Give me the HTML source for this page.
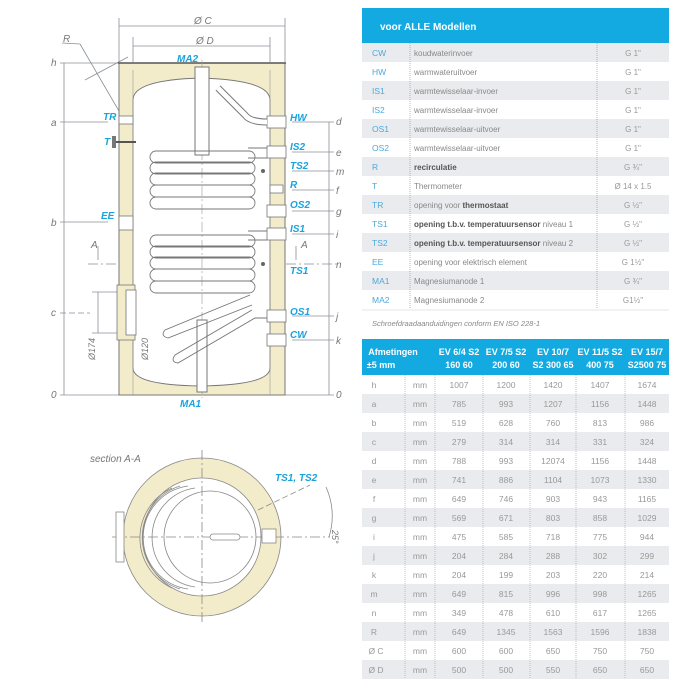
<!DOCTYPE html>
<html><head><meta charset="utf-8"><style>
body{margin:0;background:#fff;width:700px;height:700px;overflow:hidden;font-family:"Liberation Sans",sans-serif}
svg{position:absolute;left:0;top:0}
</style></head><body>
<svg width="700" height="700" viewBox="0 0 700 700" xmlns="http://www.w3.org/2000/svg" font-family="Liberation Sans, sans-serif">
<g stroke="#8a8f96" stroke-width="0.8" fill="none">
  <line x1="119" y1="18" x2="119" y2="62"/><line x1="285" y1="18" x2="285" y2="62"/>
  <line x1="119" y1="26" x2="285" y2="26"/>
  <line x1="133" y1="37" x2="133" y2="62"/><line x1="270" y1="37" x2="270" y2="62"/>
  <line x1="133" y1="46" x2="270" y2="46"/>
  <line x1="62" y1="43" x2="80" y2="44"/><line x1="80" y1="44" x2="284" y2="395"/>
  <line x1="85" y1="80" x2="128" y2="57"/>
  <line x1="64" y1="63" x2="64" y2="395"/>
  <line x1="60" y1="63" x2="119" y2="63"/>
  <line x1="60" y1="122" x2="108" y2="122"/>
  <line x1="60" y1="222" x2="108" y2="222"/>
  <line x1="60" y1="313" x2="90" y2="313" stroke-dasharray="6 3"/>
  <line x1="60" y1="395" x2="119" y2="395"/>
  <line x1="98" y1="292" x2="98" y2="333"/>
  <line x1="92" y1="292" x2="118" y2="292"/><line x1="92" y1="333" x2="118" y2="333"/>
  <line x1="152" y1="302" x2="152" y2="355"/>
  <line x1="329" y1="122" x2="329" y2="395"/>
  <line x1="292" y1="122" x2="334" y2="122"/>
  <line x1="292" y1="152" x2="334" y2="152"/>
  <line x1="292" y1="171" x2="334" y2="171"/>
  <line x1="292" y1="190" x2="334" y2="190"/>
  <line x1="292" y1="211" x2="334" y2="211"/>
  <line x1="292" y1="234" x2="334" y2="234"/>
  <line x1="292" y1="316" x2="334" y2="316"/>
  <line x1="292" y1="340" x2="334" y2="340"/>
  <line x1="285" y1="395" x2="334" y2="395"/>
  <line x1="88" y1="264" x2="338" y2="264" stroke-dasharray="10 3 2 3"/>
  <line x1="98" y1="246" x2="98" y2="260"/><line x1="296" y1="246" x2="296" y2="260"/>
</g>
<path d="M119,63 H285 V395 H119 Z" fill="#f3eccb" stroke="#777" stroke-width="1"/>
<path d="M133,100 Q133,80 200,78 Q270,80 270,100 V368 Q270,385 200,386 Q133,385 133,368 Z" fill="#fff" stroke="#777" stroke-width="1"/>
<line x1="133" y1="70" x2="133" y2="395" stroke="#999" stroke-width="0.6"/>
<line x1="270" y1="70" x2="270" y2="395" stroke="#999" stroke-width="0.6"/>
<line x1="118" y1="63" x2="286" y2="63" stroke="#555" stroke-width="1.5"/>
<line x1="202" y1="60" x2="202" y2="398" stroke="#999" stroke-width="0.6" stroke-dasharray="10 3 2 3"/>
<rect x="195" y="67" width="14" height="88" fill="#fff" stroke="#777"/>
<rect x="197" y="320" width="10" height="72" fill="#fff" stroke="#777"/>
<g fill="#fff" stroke="#777" stroke-width="0.8">
<rect x="267" y="116" width="19" height="12"/><rect x="267" y="146" width="19" height="12"/>
<rect x="270" y="185" width="13" height="8"/><rect x="267" y="205" width="19" height="12"/>
<rect x="267" y="228" width="19" height="12"/><rect x="267" y="310" width="19" height="12"/>
<rect x="267" y="334" width="19" height="12"/>
<rect x="119" y="116" width="14" height="8"/><rect x="119" y="216" width="14" height="14"/>
<rect x="117" y="285" width="18" height="55" fill="#f3eccb"/><rect x="126" y="290" width="10" height="45"/>
</g>
<path d="M218,88 L245,115 Q250,122 267,122" stroke="#777" stroke-width="7" fill="none"/>
<path d="M218,88 L245,115 Q250,122 267,122" stroke="#fff" stroke-width="5" fill="none"/>
<rect x="112" y="136" width="4" height="12" fill="#777"/><line x1="116" y1="142" x2="136" y2="142" stroke="#555" stroke-width="2"/>
<g fill="none" stroke="#777" stroke-width="0.9">
<rect x="150" y="151" width="105" height="12" rx="6"/><rect x="150" y="162" width="105" height="12" rx="6"/>
<rect x="150" y="173" width="105" height="12" rx="6"/><rect x="150" y="185" width="105" height="12" rx="6"/>
<rect x="150" y="197" width="105" height="12" rx="6"/>
<rect x="150" y="235" width="105" height="12" rx="6"/><rect x="150" y="246" width="105" height="12" rx="6"/>
<rect x="150" y="257" width="105" height="12" rx="6"/><rect x="150" y="269" width="105" height="12" rx="6"/>
<rect x="150" y="281" width="105" height="12" rx="6"/>
<path d="M248,148 H267 M248,158 H267 M248,231 H267 M248,240 H267"/>
<path d="M250,295 L165,330 Q160,336 168,338 L252,305"/>
<path d="M252,310 L175,355 Q170,362 178,363 L255,318 H267"/>
</g>
<circle cx="263" cy="171" r="2" fill="#666"/><circle cx="263" cy="264" r="2" fill="#666"/>
<g font-size="10" fill="#777" font-style="italic">
<text x="194" y="24">Ø C</text><text x="196" y="44">Ø D</text><text x="63" y="42">R</text>
<text x="51" y="66">h</text><text x="51" y="126">a</text><text x="51" y="226">b</text><text x="51" y="316">c</text><text x="51" y="398">0</text>
<text x="336" y="125">d</text><text x="336" y="156">e</text><text x="336" y="175">m</text><text x="336" y="194">f</text><text x="336" y="215">g</text><text x="336" y="238">i</text><text x="336" y="268">n</text><text x="336" y="320">j</text><text x="336" y="344">k</text><text x="336" y="398">0</text>
<text x="91" y="248">A</text><text x="301" y="248">A</text>
<text transform="translate(95,360) rotate(-90)" font-size="9">Ø174</text>
<text transform="translate(148,360) rotate(-90)" font-size="9">Ø120</text>
<text x="90" y="462">section A-A</text>
<text transform="translate(332,530) rotate(90)" font-size="9">25°</text>
</g>
<g font-size="10" fill="#1ba3dc" font-style="italic" font-weight="bold">
<text x="177" y="62">MA2</text><text x="180" y="407">MA1</text>
<text x="103" y="120">TR</text><text x="104" y="145">T</text><text x="101" y="219">EE</text>
<text x="290" y="121">HW</text><text x="290" y="150">IS2</text><text x="290" y="169">TS2</text><text x="290" y="188">R</text><text x="290" y="208">OS2</text><text x="290" y="232">IS1</text><text x="290" y="274">TS1</text><text x="290" y="315">OS1</text><text x="290" y="338">CW</text>
<text x="275" y="481">TS1, TS2</text>
</g>
<g fill="none" stroke="#888" stroke-width="0.8">
<circle cx="202" cy="537" r="69" stroke="#f3eccb" stroke-width="20"/>
<circle cx="202" cy="537" r="79"/><circle cx="202" cy="537" r="59"/>
<circle cx="210" cy="537" r="46"/>
<path d="M195,488 A50,50 0 0 0 195,587 M188,486 A52,52 0 0 0 188,589 M180,486 A54,54 0 0 0 180,589 M172,488 A55,55 0 0 0 172,588"/>
<line x1="112" y1="537" x2="330" y2="537" stroke-dasharray="10 3 2 3"/>
<line x1="202" y1="450" x2="202" y2="625" stroke-dasharray="10 3 2 3"/>
<line x1="258" y1="510" x2="310" y2="485" stroke-dasharray="6 3"/>
<path d="M326,487 A70,70 0 0 1 329,537"/>
<rect x="116" y="512" width="8" height="50" fill="#fff"/>
<rect x="210" y="534" width="30" height="6" rx="3" fill="#fff"/>
<rect x="262" y="529" width="14" height="14" fill="#fff"/>
</g>
<!-- table 1 -->
<rect x="362" y="8" width="307" height="35" fill="#13a9e1"/>
<text x="380" y="30" font-size="10" font-weight="bold" fill="#fff">voor ALLE Modellen</text>
<g fill="#e9ebee">
<rect x="362" y="43" width="307" height="19"/><rect x="362" y="81" width="307" height="19"/><rect x="362" y="119" width="307" height="19"/><rect x="362" y="157" width="307" height="19"/><rect x="362" y="195" width="307" height="19"/><rect x="362" y="233" width="307" height="19"/><rect x="362" y="271" width="307" height="19"/>
</g>
<g stroke="#999" stroke-width="0.7" stroke-dasharray="1 1"><line x1="410" y1="43" x2="410" y2="309"/><line x1="597" y1="43" x2="597" y2="309"/></g>
<line x1="362" y1="310" x2="669" y2="310" stroke="#e5e5e5"/>
<g font-size="8.5" fill="#4da8dc">
<text x="372" y="56">CW</text><text x="372" y="75">HW</text><text x="372" y="94">IS1</text><text x="372" y="113">IS2</text><text x="372" y="132">OS1</text><text x="372" y="151">OS2</text><text x="372" y="170">R</text><text x="372" y="189">T</text><text x="372" y="208">TR</text><text x="372" y="227">TS1</text><text x="372" y="246">TS2</text><text x="372" y="265">EE</text><text x="372" y="284">MA1</text><text x="372" y="303">MA2</text>
</g>
<g font-size="8" fill="#888">
<text x="414" y="56">koudwaterinvoer</text><text x="414" y="75">warmwateruitvoer</text><text x="414" y="94">warmtewisselaar-invoer</text><text x="414" y="113">warmtewisselaar-invoer</text><text x="414" y="132">warmtewisselaar-uitvoer</text><text x="414" y="151">warmtewisselaar-uitvoer</text>
<text x="414" y="170" font-weight="bold" fill="#555">recirculatie</text><text x="414" y="189">Thermometer</text>
<text x="414" y="208">opening voor <tspan font-weight="bold" fill="#555">thermostaat</tspan></text>
<text x="414" y="227"><tspan font-weight="bold" fill="#555">opening t.b.v. temperatuursensor</tspan> niveau 1</text>
<text x="414" y="246"><tspan font-weight="bold" fill="#555">opening t.b.v. temperatuursensor</tspan> niveau 2</text>
<text x="414" y="265">opening voor elektrisch element</text><text x="414" y="284">Magnesiumanode 1</text><text x="414" y="303">Magnesiumanode 2</text>
</g>
<g font-size="8" fill="#999" text-anchor="middle">
<text x="633" y="56">G 1"</text><text x="633" y="75">G 1"</text><text x="633" y="94">G 1"</text><text x="633" y="113">G 1"</text><text x="633" y="132">G 1"</text><text x="633" y="151">G 1"</text><text x="633" y="170">G ¾"</text><text x="633" y="189">Ø 14 x 1.5</text><text x="633" y="208">G ½"</text><text x="633" y="227">G ½"</text><text x="633" y="246">G ½"</text><text x="633" y="265">G 1½"</text><text x="633" y="284">G ¾"</text><text x="633" y="303">G1½"</text>
</g>
<text x="372" y="326" font-size="7.5" font-style="italic" fill="#888">Schroefdraadaanduidingen conform EN ISO 228-1</text>
<line x1="362" y1="340" x2="669" y2="340" stroke="#8fd3f0"/>
<!-- table 2 -->
<rect x="362" y="339" width="307" height="36" fill="#13a9e1"/>
<g font-size="9" font-weight="bold" fill="#fff" text-anchor="middle">
<text x="393" y="355">Afmetingen</text><text x="381" y="368">±5 mm</text>
<text x="459" y="355">EV 6/4 S2</text><text x="459" y="368">160 60</text>
<text x="506" y="355">EV 7/5 S2</text><text x="506" y="368">200 60</text>
<text x="553" y="355">EV 10/7</text><text x="553" y="368">S2 300 65</text>
<text x="600" y="355">EV 11/5 S2</text><text x="600" y="368">400 75</text>
<text x="647" y="355">EV 15/7</text><text x="647" y="368">S2500 75</text>
</g>
<g fill="#e9ebee">
<rect x="362" y="394" width="307" height="19"/><rect x="362" y="432" width="307" height="19"/><rect x="362" y="470" width="307" height="19"/><rect x="362" y="508" width="307" height="19"/><rect x="362" y="546" width="307" height="19"/><rect x="362" y="584" width="307" height="19"/><rect x="362" y="622" width="307" height="19"/><rect x="362" y="660" width="307" height="19"/>
</g>
<g stroke="#aaa" stroke-width="0.7" stroke-dasharray="1 1">
<line x1="405" y1="375" x2="405" y2="679"/><line x1="435" y1="375" x2="435" y2="679"/><line x1="483" y1="375" x2="483" y2="679"/><line x1="530" y1="375" x2="530" y2="679"/><line x1="576" y1="375" x2="576" y2="679"/><line x1="625" y1="375" x2="625" y2="679"/>
</g>
<g font-size="8.5" fill="#999" text-anchor="middle">
<text y="388"><tspan x="374">h</tspan><tspan x="420">mm</tspan><tspan x="459">1007</tspan><tspan x="506">1200</tspan><tspan x="553">1420</tspan><tspan x="600">1407</tspan><tspan x="647">1674</tspan></text>
<text y="407"><tspan x="374">a</tspan><tspan x="420">mm</tspan><tspan x="459">785</tspan><tspan x="506">993</tspan><tspan x="553">1207</tspan><tspan x="600">1156</tspan><tspan x="647">1448</tspan></text>
<text y="426"><tspan x="374">b</tspan><tspan x="420">mm</tspan><tspan x="459">519</tspan><tspan x="506">628</tspan><tspan x="553">760</tspan><tspan x="600">813</tspan><tspan x="647">986</tspan></text>
<text y="445"><tspan x="374">c</tspan><tspan x="420">mm</tspan><tspan x="459">279</tspan><tspan x="506">314</tspan><tspan x="553">314</tspan><tspan x="600">331</tspan><tspan x="647">324</tspan></text>
<text y="464"><tspan x="374">d</tspan><tspan x="420">mm</tspan><tspan x="459">788</tspan><tspan x="506">993</tspan><tspan x="553">12074</tspan><tspan x="600">1156</tspan><tspan x="647">1448</tspan></text>
<text y="483"><tspan x="374">e</tspan><tspan x="420">mm</tspan><tspan x="459">741</tspan><tspan x="506">886</tspan><tspan x="553">1104</tspan><tspan x="600">1073</tspan><tspan x="647">1330</tspan></text>
<text y="502"><tspan x="374">f</tspan><tspan x="420">mm</tspan><tspan x="459">649</tspan><tspan x="506">746</tspan><tspan x="553">903</tspan><tspan x="600">943</tspan><tspan x="647">1165</tspan></text>
<text y="521"><tspan x="374">g</tspan><tspan x="420">mm</tspan><tspan x="459">569</tspan><tspan x="506">671</tspan><tspan x="553">803</tspan><tspan x="600">858</tspan><tspan x="647">1029</tspan></text>
<text y="540"><tspan x="374">i</tspan><tspan x="420">mm</tspan><tspan x="459">475</tspan><tspan x="506">585</tspan><tspan x="553">718</tspan><tspan x="600">775</tspan><tspan x="647">944</tspan></text>
<text y="559"><tspan x="374">j</tspan><tspan x="420">mm</tspan><tspan x="459">204</tspan><tspan x="506">284</tspan><tspan x="553">288</tspan><tspan x="600">302</tspan><tspan x="647">299</tspan></text>
<text y="578"><tspan x="374">k</tspan><tspan x="420">mm</tspan><tspan x="459">204</tspan><tspan x="506">199</tspan><tspan x="553">203</tspan><tspan x="600">220</tspan><tspan x="647">214</tspan></text>
<text y="597"><tspan x="374">m</tspan><tspan x="420">mm</tspan><tspan x="459">649</tspan><tspan x="506">815</tspan><tspan x="553">996</tspan><tspan x="600">998</tspan><tspan x="647">1265</tspan></text>
<text y="616"><tspan x="374">n</tspan><tspan x="420">mm</tspan><tspan x="459">349</tspan><tspan x="506">478</tspan><tspan x="553">610</tspan><tspan x="600">617</tspan><tspan x="647">1265</tspan></text>
<text y="635"><tspan x="374">R</tspan><tspan x="420">mm</tspan><tspan x="459">649</tspan><tspan x="506">1345</tspan><tspan x="553">1563</tspan><tspan x="600">1596</tspan><tspan x="647">1838</tspan></text>
<text y="654"><tspan x="376">Ø C</tspan><tspan x="420">mm</tspan><tspan x="459">600</tspan><tspan x="506">600</tspan><tspan x="553">650</tspan><tspan x="600">750</tspan><tspan x="647">750</tspan></text>
<text y="673"><tspan x="376">Ø D</tspan><tspan x="420">mm</tspan><tspan x="459">500</tspan><tspan x="506">500</tspan><tspan x="553">550</tspan><tspan x="600">650</tspan><tspan x="647">650</tspan></text>
</g>
</svg>
</body></html>
